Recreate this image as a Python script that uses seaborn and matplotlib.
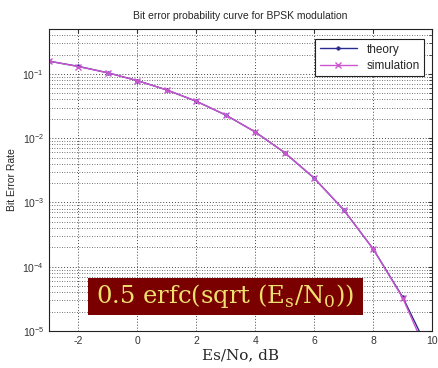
import numpy as np
import pandas as pd
import seaborn as sns
import matplotlib.pyplot as plt
from matplotlib.patches import Rectangle

# Es/No in dB and BER values
esno_db = [-3, -2, -1, 0, 1, 2, 3, 4, 5, 6, 7, 8, 9, 10]
ber_theory = [0.158, 0.131, 0.104, 0.0786, 0.0563, 0.0375, 0.0229, 0.0125,
              0.00595, 0.00239, 7.7e-4, 1.9e-4, 3.4e-5, 3.9e-6]
ber_sim = [0.158, 0.130, 0.104, 0.0785, 0.0562, 0.0376, 0.0229, 0.0125,
           0.00596, 0.00240, 7.7e-4, 1.9e-4, 3.3e-5, 3.0e-6]

df = pd.DataFrame({'EsNo': esno_db, 'theory': ber_theory, 'simulation': ber_sim})

sns.set_style('white')
plt.rcParams['font.family'] = ['Liberation Sans', 'DejaVu Sans']
plt.rcParams['axes.unicode_minus'] = False

fig = plt.figure(figsize=(4.38, 3.68), dpi=100)
ax = fig.add_axes([49 / 438, 37 / 368, 383 / 438, 302 / 368])

sns.lineplot(data=df, x='EsNo', y='theory', ax=ax, color='#2a2a90', marker='.',
             markersize=5, markeredgecolor='#2a2a90', markeredgewidth=0.5,
             linewidth=1.0, label='theory')
sns.lineplot(data=df, x='EsNo', y='simulation', ax=ax, color='#cc55d0', marker='x',
             markersize=4, markeredgecolor='#cc55d0', markeredgewidth=1.0,
             linewidth=1.0, label='simulation')

ax.set_yscale('log')
ax.set_xlim(-3, 10)
ax.set_ylim(1e-5, 0.5)
ax.set_xticks([-2, 0, 2, 4, 6, 8, 10])

ax.grid(True, which='major', axis='both', linestyle=(0, (1, 2)), color='#444444', linewidth=0.7)
ax.grid(True, which='minor', axis='y', linestyle=(0, (1, 2)), color='#444444', linewidth=0.6)
ax.tick_params(which='both', direction='in', top=True, right=True, labelsize=7.5,
               colors='#333333', length=3)
ax.tick_params(which='minor', length=2)
for s in ax.spines.values():
    s.set_color('#222222')
    s.set_linewidth(0.8)

ax.set_title('Bit error probability curve for BPSK modulation', fontsize=7.5, pad=7)
ax.set_xlabel('Es/No, dB', fontsize=11, family='DejaVu Serif', labelpad=2)
ax.set_ylabel('Bit Error Rate', fontsize=7.5, labelpad=4)

leg = ax.legend(loc='upper right', fontsize=8.5, fancybox=False, edgecolor='#222222',
                framealpha=1, handlelength=3.2, borderpad=0.35, labelspacing=0.35,
                bbox_to_anchor=(0.995, 0.985))
leg.get_frame().set_linewidth(0.8)

# formula label box
fig.patches.append(Rectangle((88 / 438, 53 / 368), 275 / 438, 37 / 368,
                             transform=fig.transFigure, facecolor='#7a0000',
                             edgecolor='none', zorder=5))
fig.text(0.515, 0.196, r'0.5 erfc(sqrt (E$_\mathregular{s}$/N$_\mathregular{0}$))',
         fontsize=17.5, family='DejaVu Serif', color='#eee070', ha='center', va='center',
         zorder=6)

plt.savefig('out.png', dpi=100)
